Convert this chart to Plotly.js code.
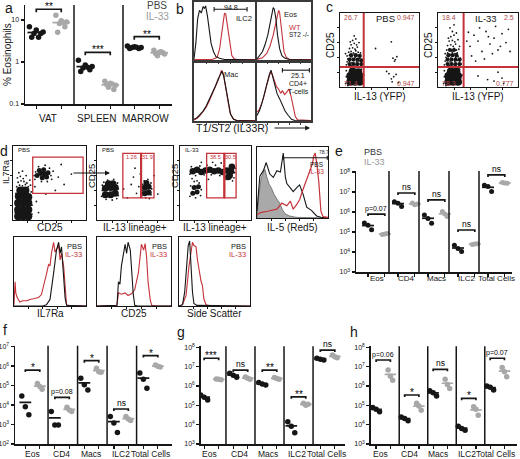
<!DOCTYPE html>
<html><head><meta charset="utf-8">
<script src="https://cdn.plot.ly/plotly-3.0.1.min.js"></script>
<style>html,body{margin:0;padding:0;background:#fff}#chart{width:520px;height:459px}
#chart svg text{-webkit-font-smoothing:antialiased;}</style>
</head><body><div id="chart"></div>
<script>
// ================= DATA =================
// Panel a: % eosinophils
const aCats = ['VAT','SPLEEN','MARROW'];
const aPBS  = [[6.9,5.8,5.2,4.8,4.8,3.9,3.9],[1.1,0.85,0.78,0.72,0.65,0.59,0.75],[2.4,2.3,2.2,2.2,2.1,2.1,2.25]];
const aIL33 = [[13,9.6,9,8.3,6.9,5.1,8.8],[0.35,0.31,0.28,0.25,0.22,0.29,0.3],[1.9,1.7,1.55,1.4,1.65,1.6,1.75]];
const aSig = [18,1.7,4.0];
const aSigText = ['**','***','**'];
const aTickVals = [0.1,1,10];
const aTickText = ['0.1','1','10'];

// Panels e-h: cell numbers
const cellCats = ['Eos','CD4','Macs','ILC2','Total Cells'];
const ePBS  = [[2.8e5,2.2e5,1.3e5],[3.3e6,2.7e6,1.9e6],[7.1e5,4.8e5,2.7e5],[2.2e4,1.5e4,1.05e4],[2.2e7,1.9e7,1.05e7]];
const eIL33 = [[7.6e4,7.9e4,8.3e4],[2.8e6,2.3e6,2.5e6],[1.05e6,7.9e5,5.9e5],[2.4e4,2.5e4,2.6e4],[2.95e7,2.8e7,2.7e7]];
const eSig = [7.9e5,8.9e6,4.0e6,1.26e5,7.1e7];
const eSigText = ['p=0.07','ns','ns','ns','ns'];

const fPBS  = [[2.95e4,8.3e3,3.2e3],[4.7e3,9.5e2,9.5e2],[2.4e5,1.1e5,6.0e4],[2.6e3,1.2e3,3.9e2],[4.4e5,2.1e5,7.4e4]];
const fIL33 = [[1.3e5,8.9e4,6.5e4],[7.8e3,5.6e3,4.7e3],[7.8e5,5.2e5,4.8e5],[2.6e3,1.9e3,1.6e3],[1.15e6,1.0e6,8.9e5]];
const fSig = [6.3e5,2.5e4,1.9e6,6.3e3,3.5e6];
const fSigText = ['*','p=0.08','*','ns','*'];

const gPBS  = [[3.4e5,2.6e5,1.9e5],[4.5e6,3.6e6,2.8e6],[1.5e6,1.26e6,1.12e6],[1.4e4,8.3e3,3.8e3],[2.7e7,2.4e7,2.2e7]];
const gIL33 = [[2.3e6,2.2e6,2.1e6],[2.9e6,2.5e6,2.2e6],[2.75e6,2.45e6,2.2e6],[1.26e5,1.0e5,1.12e5],[4.0e7,3.2e7,2.9e7]];
const gSig = [2.7e7,6.6e6,6.6e6,2.75e5,7.2e7];
const gSigText = ['***','ns','**','**','ns'];

const hPBS  = [[7.8e4,6.2e4,4.6e4],[2.5e4,2.1e4,1.6e4],[5.6e5,4.5e5,3.0e5],[8.3e3,6.3e3,5.2e3],[1.0e6,8.5e5,6.2e5]];
const hIL33 = [[6.6e6,3.2e6,2.0e6],[1.26e5,9.1e4,5.6e4],[2.2e6,1.2e6,7.4e5],[8.3e4,6.2e4,3.1e4],[9.1e6,5.5e6,3.0e6]];
const hSig = [2.2e7,3.4e5,7.2e6,2.3e5,2.7e7];
const hSigText = ['p=0.06','*','ns','*','p=0.07'];

const tv38 = [1e3,1e4,1e5,1e6,1e7,1e8];
const tt38 = ['10<sup>3</sup>','10<sup>4</sup>','10<sup>5</sup>','10<sup>6</sup>','10<sup>7</sup>','10<sup>8</sup>'];
const tv27 = [1e2,1e3,1e4,1e5,1e6,1e7];
const tt27 = ['10<sup>2</sup>','10<sup>3</sup>','10<sup>4</sup>','10<sup>5</sup>','10<sup>6</sup>','10<sup>7</sup>'];

// Panel b histograms (T1/ST2), x = fluorescence (0-1), y = normalized count
const bILC2_koX = [0,0.03,0.06,0.09,0.12,0.15,0.17,0.19,0.22,0.25,0.28,0.32,0.36,0.42,0.5,0.7,1];
const bILC2_koY = [0.02,0.3,0.75,0.9,0.85,0.97,0.93,0.98,0.8,0.55,0.3,0.15,0.06,0.03,0.01,0.01,0];
const bILC2_wtX = [0,0.3,0.38,0.42,0.45,0.48,0.5,0.52,0.55,0.58,0.62,0.66,0.7,1];
const bILC2_wtY = [0.01,0.01,0.05,0.2,0.45,0.7,0.85,0.83,0.6,0.3,0.08,0.02,0.01,0.01];
const bILC2Gate = [0.33,0.87], bILC2Pct = '94.8';
const bEos_koX = [0,0.05,0.1,0.15,0.2,0.24,0.27,0.3,0.32,0.35,0.38,0.42,0.46,0.52,0.6,1];
const bEos_koY = [0.02,0.08,0.15,0.28,0.45,0.65,0.8,0.95,0.92,0.75,0.45,0.2,0.08,0.03,0.01,0];
const bEos_wtX = [0,0.1,0.18,0.24,0.3,0.34,0.37,0.4,0.42,0.44,0.47,0.5,0.54,0.6,1];
const bEos_wtY = [0.01,0.04,0.12,0.25,0.45,0.65,0.82,0.9,0.85,0.65,0.35,0.15,0.05,0.01,0.01];
const bMac_koX = [0,0.05,0.1,0.15,0.2,0.25,0.3,0.35,0.4,0.43,0.46,0.49,0.52,0.56,0.6,0.65,0.7,1];
const bMac_koY = [0.03,0.06,0.12,0.18,0.27,0.38,0.5,0.63,0.77,0.85,0.9,0.8,0.6,0.35,0.12,0.03,0.01,0];
const bMac_wtX = [0,0.05,0.1,0.15,0.2,0.25,0.3,0.35,0.4,0.43,0.45,0.48,0.51,0.55,0.59,0.64,0.7,1];
const bMac_wtY = [0.02,0.05,0.1,0.17,0.25,0.36,0.48,0.6,0.75,0.85,0.92,0.86,0.65,0.4,0.15,0.04,0.01,0.01];
const bCD4_koX = [0,0.05,0.1,0.15,0.2,0.23,0.26,0.29,0.33,0.37,0.42,0.47,0.52,0.58,0.64,0.7,1];
const bCD4_koY = [0.1,0.2,0.35,0.55,0.75,0.85,0.92,0.8,0.65,0.5,0.4,0.3,0.18,0.1,0.03,0.01,0];
const bCD4_wtX = [0,0.04,0.08,0.13,0.18,0.22,0.25,0.28,0.32,0.36,0.4,0.44,0.47,0.51,0.55,0.59,0.63,0.67,0.71,0.75,1];
const bCD4_wtY = [0.16,0.2,0.3,0.45,0.65,0.8,0.88,0.85,0.75,0.62,0.58,0.5,0.55,0.48,0.52,0.58,0.45,0.25,0.08,0.02,0.01];
const bCD4Gate = [0.47,0.97], bCD4Pct = '25.1';

// Panel c flow plots (CD25 vs IL-13 YFP), x/y in 0-1 log-fluorescence units
const cGateX = [0.3,0.32], cGateY = [0.27,0.27];
const cPBSQuad = ['26.7','0.947','71.4','0.947'];
const cIL33Quad = ['18.4','2.5','78.3','0.777'];
const cPBSCoreX = [0.13,0.19,0.25,0.13,0.19,0.25,0.16,0.23];
const cPBSCoreY = [0.07,0.07,0.07,0.15,0.15,0.15,0.21,0.2];
const cPBSMidX = [0.12,0.17,0.22,0.27,0.12,0.17,0.22,0.27,0.14,0.2,0.25];
const cPBSMidY = [0.31,0.31,0.31,0.31,0.37,0.37,0.37,0.36,0.43,0.43,0.42];
const cPBSDotX = [0.08,0.11,0.14,0.17,0.2,0.23,0.26,0.29,0.09,0.12,0.15,0.18,0.21,0.24,0.27,0.1,0.13,0.16,0.19,0.22,0.25,0.28,0.09,0.12,0.15,0.18,0.21,0.24,0.11,0.14,0.17,0.2,0.23,0.26,0.12,0.16,0.19,0.22,0.14,0.18,0.21,0.16,0.2,0.13,0.18,0.24,0.07,
  0.07,0.08,0.29,0.3,0.1,0.27,0.28,0.08,
  0.65,0.67,0.7,0.72,0.69,0.59,0.65,0.68,0.66,0.71,0.62,0.74,0.45];
const cPBSDotY = [0.3,0.31,0.29,0.32,0.3,0.31,0.3,0.31,0.34,0.35,0.33,0.36,0.34,0.35,0.34,0.38,0.39,0.37,0.4,0.38,0.39,0.37,0.42,0.43,0.41,0.44,0.42,0.43,0.47,0.48,0.46,0.49,0.47,0.46,0.52,0.53,0.51,0.54,0.57,0.59,0.57,0.63,0.65,0.61,0.69,0.6,0.45,
  0.05,0.14,0.06,0.16,0.02,0.24,0.12,0.22,
  0.61,0.39,0.37,0.41,0.35,0.21,0.11,0.14,0.07,0.17,0.18,0.06,0.52];
const cIL33CoreX = [0.13,0.19,0.25,0.13,0.19,0.25,0.16,0.23];
const cIL33CoreY = [0.07,0.07,0.07,0.15,0.15,0.15,0.21,0.21];
const cIL33MidX = [0.12,0.17,0.22,0.27,0.12,0.17,0.22,0.27,0.13,0.18,0.23,0.15,0.2];
const cIL33MidY = [0.31,0.31,0.31,0.31,0.37,0.37,0.37,0.37,0.43,0.43,0.43,0.5,0.5];
const cIL33DotX = [0.08,0.11,0.14,0.17,0.2,0.23,0.26,0.29,0.09,0.12,0.15,0.18,0.21,0.24,0.27,0.1,0.13,0.16,0.19,0.22,0.25,0.28,0.09,0.12,0.15,0.18,0.21,0.24,0.11,0.14,0.17,0.2,0.23,0.26,0.12,0.16,0.19,0.22,0.14,0.18,0.21,0.25,0.16,0.2,0.13,0.18,0.23,0.15,0.2,0.27,
  0.4,0.45,0.5,0.55,0.6,0.65,0.7,0.75,0.8,0.85,0.42,0.52,0.58,0.63,0.68,0.78,0.88,0.47,0.72,0.9,0.36,0.38,
  0.5,0.62,0.75,0.8,0.82,0.7,
  0.07,0.08,0.29,0.3,0.1,0.27,0.28,0.08];
const cIL33DotY = [0.3,0.31,0.29,0.32,0.3,0.31,0.3,0.31,0.35,0.36,0.34,0.37,0.35,0.36,0.35,0.4,0.41,0.39,0.42,0.4,0.41,0.39,0.45,0.46,0.44,0.47,0.45,0.46,0.5,0.51,0.49,0.52,0.5,0.51,0.56,0.57,0.55,0.58,0.62,0.63,0.61,0.64,0.68,0.7,0.66,0.75,0.73,0.8,0.84,0.55,
  0.55,0.7,0.62,0.48,0.75,0.58,0.66,0.5,0.72,0.6,0.42,0.8,0.38,0.68,0.45,0.55,0.78,0.35,0.82,0.48,0.62,0.74,
  0.15,0.1,0.2,0.12,0.05,0.08,
  0.05,0.14,0.06,0.16,0.02,0.24,0.12,0.22];

// Panel d flow plots
const d1Gate = [0.27,0.96,0.36,0.85];
const d1CoreX = [0.07,0.14,0.21,0.07,0.14,0.21,0.07,0.14,0.21,0.08,0.15,0.21,0.1,0.17];
const d1CoreY = [0.05,0.05,0.05,0.14,0.14,0.14,0.23,0.23,0.23,0.32,0.32,0.31,0.4,0.4];
const d1MidX = [0.33,0.38,0.43,0.48,0.36,0.42,0.46,0.4];
const d1MidY = [0.6,0.63,0.62,0.64,0.67,0.68,0.58,0.57];
const d1DotX = [0.05,0.09,0.13,0.17,0.21,0.24,0.07,0.11,0.15,0.19,0.23,0.06,0.1,0.14,0.18,0.08,0.13,0.04,0.25,0.26,0.03,0.26,0.04,
  0.3,0.31,0.35,0.52,0.5,0.55,0.44,0.29,0.53,0.39,0.47,
  0.62,0.7,0.58,0.32,0.45,0.8,0.66,0.35,0.3];
const d1DotY = [0.45,0.47,0.46,0.48,0.45,0.47,0.51,0.53,0.52,0.5,0.54,0.57,0.59,0.56,0.6,0.64,0.66,0.36,0.38,0.2,0.1,0.08,0.25,
  0.55,0.65,0.72,0.6,0.7,0.66,0.74,0.6,0.55,0.52,0.52,
  0.58,0.48,0.4,0.25,0.35,0.62,0.75,0.1,0.45];
const d2Gates = [[0.34,0.58,0.3,0.9],[0.58,0.75,0.3,0.9]];
const d2Pct = ['1.26','31.9'];
const d2CoreX = [0.11,0.18,0.24,0.11,0.18,0.24,0.15,0.21];
const d2CoreY = [0.34,0.34,0.36,0.43,0.44,0.44,0.49,0.49];
const d2Core2X = [0.63,0.68,0.63,0.68,0.65];
const d2Core2Y = [0.36,0.37,0.44,0.45,0.5];
const d2DotX = [0.06,0.07,0.07,0.28,0.28,0.27,0.12,0.2,0.14,0.22,0.09,0.26,
  0.59,0.6,0.6,0.71,0.72,0.71,0.64,0.67,0.62,0.69,
  0.45,0.52,0.48,0.55,0.4,0.35,0.75,0.8,0.5,0.57];
const d2DotY = [0.32,0.4,0.47,0.33,0.42,0.5,0.28,0.27,0.54,0.55,0.51,0.29,
  0.33,0.4,0.48,0.34,0.42,0.5,0.3,0.55,0.53,0.29,
  0.48,0.36,0.58,0.45,0.3,0.42,0.6,0.35,0.7,0.62];
const d3Gates = [[0.375,0.625,0.3,0.9],[0.625,0.79,0.3,0.9]];
const d3Pct = ['38.5','30.5'];
const d3CoreX = [0.18,0.24,0.3,0.36,0.42,0.48,0.54,0.6,0.66,0.72,0.7,0.73,0.68];
const d3CoreY = [0.66,0.68,0.65,0.67,0.68,0.66,0.67,0.65,0.67,0.66,0.6,0.72,0.58];
const d3Core2X = [0.18,0.24,0.2,0.26];
const d3Core2Y = [0.36,0.38,0.44,0.45];
const d3DotX = [0.14,0.16,0.22,0.28,0.34,0.38,0.44,0.5,0.56,0.62,0.77,0.78,0.76,0.65,0.74,0.2,0.17,0.24,0.14,0.29,0.15,0.3,0.22,0.27,0.4,0.58,0.46,0.3];
const d3DotY = [0.62,0.72,0.6,0.73,0.61,0.74,0.61,0.74,0.6,0.73,0.64,0.7,0.57,0.55,0.53,0.52,0.56,0.53,0.32,0.33,0.46,0.41,0.3,0.5,0.55,0.77,0.78,0.78];

// Panel d histograms
const d4GrayX = [0,0.02,0.06,0.09,0.11,0.14,0.17,0.2,0.24,0.28,0.32,0.36,0.4,0.46,0.55,1];
const d4GrayY = [0,0.3,0.6,0.68,0.72,0.6,0.5,0.45,0.35,0.28,0.22,0.12,0.06,0.03,0.01,0];
const d4PBSX = [0,0.04,0.09,0.13,0.18,0.23,0.28,0.33,0.37,0.4,0.42,0.46,0.51,0.56,0.6,0.65,0.7,0.77,0.84,0.9,1];
const d4PBSY = [0.1,0.62,0.7,0.82,0.65,0.6,0.7,0.68,0.96,0.6,0.51,0.45,0.39,0.45,0.49,0.35,0.16,0.11,0.03,0.01,0];
const d4ILX = [0,0.05,0.15,0.28,0.35,0.42,0.47,0.51,0.56,0.6,0.64,0.67,0.71,0.75,0.78,0.8,0.82,0.84,0.87,0.9,0.93,1];
const d4ILY = [0.05,0.08,0.1,0.13,0.22,0.18,0.25,0.13,0.2,0.27,0.4,0.49,0.6,0.72,0.8,0.92,0.96,0.82,0.54,0.1,0.02,0.01];
const d4Gate = [0.37,0.99], d4Pct = '78.7';
const il7PBSX = [0,0.4,0.45,0.5,0.55,0.59,0.62,0.64,0.66,0.69,0.71,0.73,1];
const il7PBSY = [0,0,0.02,0.1,0.5,0.85,0.97,0.8,0.9,0.4,0.12,0.01,0];
const il7ILX = [0,0.015,0.025,0.04,0.08,0.12,0.18,0.22,0.27,0.34,0.38,0.41,0.45,0.48,0.5,0.52,0.55,0.57,0.59,0.62,0.64,0.66,0.69,0.71,0.73,0.76,1];
const il7ILY = [0.02,0.37,0.2,0.14,0.06,0.08,0.08,0.1,0.11,0.13,0.17,0.29,0.48,0.63,0.61,0.8,0.97,0.82,0.87,0.92,0.7,0.8,0.6,0.23,0.02,0.01,0];
const cd25PBSX = [0,0.25,0.27,0.29,0.31,0.33,0.36,0.38,0.4,0.42,0.45,0.47,0.49,0.51,0.55,1];
const cd25PBSY = [0,0,0.01,0.37,0.33,0.61,0.85,0.94,0.8,0.97,0.85,0.51,0.18,0.01,0,0];
const cd25ILX = [0,0.25,0.27,0.29,0.33,0.38,0.42,0.47,0.51,0.56,0.58,0.6,0.63,0.65,0.67,0.69,0.72,0.74,0.8,1];
const cd25ILY = [0,0,0.01,0.2,0.18,0.2,0.16,0.19,0.25,0.51,0.7,0.94,0.85,0.95,0.75,0.37,0.09,0.01,0,0];
const sscPBSX = [0,0.05,0.08,0.11,0.13,0.15,0.17,0.19,0.21,0.25,1];
const sscPBSY = [0,0.02,0.21,0.7,0.92,0.99,0.6,0.21,0.04,0.01,0];
const sscILX = [0,0.05,0.1,0.14,0.18,0.19,0.21,0.24,0.26,0.28,0.31,0.33,0.35,0.38,0.45,1];
const sscILY = [0,0.02,0.16,0.6,0.9,0.97,0.92,0.9,0.7,0.55,0.38,0.31,0.11,0.02,0,0];

// ================= DRAWING =================
const W = 520, H = 459;
const PX = x => x / W, PY = y => 1 - y / H;
const RED = '#c4323a', BLK = '#161616', GRY = '#a8a8a8';
const FAM = '"Liberation Sans", Arial, sans-serif';
const layout = {
  width: W, height: H, margin: {l:0, r:0, t:0, b:0, pad:0},
  paper_bgcolor: '#fff', plot_bgcolor: 'rgba(0,0,0,0)', showlegend: false,
  font: {family: FAM, size: 9, color: BLK},
  annotations: [], shapes: []
};
const traces = [];
let axCount = 0;
function makeAxes(x0, x1, yT, yB, xo, yo) {
  axCount++;
  const s = axCount === 1 ? '' : String(axCount);
  const base = {showgrid:false, zeroline:false, fixedrange:true};
  layout['xaxis' + s] = Object.assign({}, base, {domain:[PX(x0), PX(x1)], anchor:'y' + s}, xo);
  layout['yaxis' + s] = Object.assign({}, base, {domain:[PY(yB), PY(yT)], anchor:'x' + s}, yo);
  return {x:'x' + s, y:'y' + s};
}
function txt(x, y, text, size, o, color) {
  layout.annotations.push(Object.assign({xref:'paper', yref:'paper', x:PX(x), y:PY(y), text:text, showarrow:false,
    xanchor:'center', yanchor:'middle', font:{family:FAM, size:size, color:color || BLK}}, o || {}));
}
function axTxt(ax, x, y, text, size, color, o) {
  layout.annotations.push(Object.assign({xref:ax.x, yref:ax.y, x:x, y:y, text:text, showarrow:false,
    xanchor:'center', yanchor:'middle', font:{family:FAM, size:size, color:color || BLK}}, o || {}));
}
function line(ax, x, y, col, w, extra) {
  traces.push(Object.assign({type:'scatter', mode:'lines', xaxis:ax.x, yaxis:ax.y, x:x, y:y,
    line:{color:col, width:w || 1.2}, hoverinfo:'skip'}, extra || {}));
}
function dots(ax, x, y, size, col) {
  traces.push({type:'scatter', mode:'markers', xaxis:ax.x, yaxis:ax.y, x:x, y:y,
    marker:{color:col || BLK, size:size, line:{width:0}}, hoverinfo:'skip'});
}
function boxAx(x0, x1, yT, yB, lc, lw, yTicks) {
  const common = {showline:true, mirror:true, linecolor:lc, linewidth:lw, ticks:'outside', ticklen:2,
    tickwidth:1, tickcolor:lc, showticklabels:false};
  return makeAxes(x0, x1, yT, yB,
    Object.assign({range:[0,1], tickvals:[0.2,0.4,0.6,0.8]}, common),
    Object.assign({range: yTicks ? [0,1] : [0,1.05], tickvals: yTicks ? [0.2,0.4,0.6,0.8] : []}, common));
}
function capBracket(ax, a, b, h, d, col) {
  line(ax, [a,a,null,a,b,null,b,b], [h-d,h+d,null,h,h,null,h-d,h+d], col || BLK, 1.1);
}
function rect(ax, g, col, w) {
  layout.shapes.push({type:'rect', xref:ax.x, yref:ax.y, x0:g[0], x1:g[1], y0:g[2], y1:g[3],
    line:{color:col, width:w}, fillcolor:'rgba(0,0,0,0)'});
}

function dotPanel(c) {
  const tv = [];
  c.cats.forEach((_, g) => { tv.push(g + c.pOff, g + c.iOff); });
  const ax = makeAxes(c.x0, c.x1, c.yT, c.yB,
    {range:c.xr, showline:true, linecolor:BLK, linewidth:1.5, ticks:'outside', ticklen:3, tickwidth:1.3,
     tickcolor:BLK, tickvals:tv, showticklabels:false},
    {type:'log', range:c.yr, showline:true, linecolor:BLK, linewidth:1.5, ticks:'outside', ticklen:3,
     tickwidth:1.3, tickcolor:BLK, tickvals:c.tv, ticktext:c.tt, tickfont:{family:FAM, size:c.tfs, color:BLK}});
  c.cats.forEach((cat, g) => {
    if (g > 0) layout.shapes.push({type:'line', xref:ax.x, yref:ax.y + ' domain', x0:g, x1:g, y0:0, y1:1,
      line:{color:BLK, width:1.5}});
    [[c.pbs[g], g + c.pOff, BLK, c.jp], [c.il[g], g + c.iOff, GRY, c.ji]].forEach(([vals, x, col, amp]) => {
      const n = vals.length, k = (n % 3 === 0) ? 1 : 3;
      const xs = vals.map((v, i) => x + (((i * k) % n) / (n - 1) * 2 - 1) * amp);
      traces.push({type:'scatter', mode:'markers', xaxis:ax.x, yaxis:ax.y, x:xs, y:vals,
        marker:{color:col, size:c.ms, line:{width:0}}, hoverinfo:'skip'});
      const m = vals.reduce((s, v) => s + v, 0) / n;
      line(ax, [x - c.mw, x + c.mw], [m, m], col, 1.7);
    });
    const s = c.sig[g], P = g + c.pOff, I = g + c.iOff, d = Math.pow(10, c.cap);
    line(ax, [P, P, I, I], [s / d, s, s, s / d], BLK, 1.7);
    const st = c.sigText[g], isP = st.startsWith('p');
    axTxt(ax, (P + I) / 2, Math.log10(s), st, isP ? 7 : (st === 'ns' ? 8.5 : 10), '#000',
      {yanchor:'bottom', yshift: isP ? -1 : (st === 'ns' ? -1 : -5), opacity:0.99});
    layout.annotations.push({xref:ax.x, yref:'paper', x:g + c.lOff, y:PY(c.labY), text:cat, showarrow:false,
      xanchor:'center', yanchor:'middle', font:{family:FAM, size:c.lfs, color:BLK}});
  });
  return ax;
}

// ---- Panel a ----
dotPanel({cats:aCats, pbs:aPBS, il:aIL33, sig:aSig, sigText:aSigText, x0:25, x1:172, yT:5, yB:104,
  xr:[0,3], yr:[-1,1.357], tv:aTickVals, tt:aTickText, tfs:7, pOff:0.23, iOff:0.74, lOff:0.46, labY:118,
  lfs:10, ms:5.5, mw:0.18, jp:0.14, ji:0.11, cap:0.07});
txt(3, 8, 'a', 14, {xanchor:'left'});
txt(8, 55, '% Eosinophils', 10, {textangle:-90});
txt(145, 5, 'PBS', 10, {xanchor:'left'}, '#444');
txt(144, 16, 'IL-33', 10, {xanchor:'left'}, '#9a9a9a');

// ---- Panel b ----
txt(180, 9, 'b', 14);
const b1 = boxAx(194, 255, 2, 60, '#3a3a3a', 1.6);
line(b1, bILC2_wtX, bILC2_wtY, RED, 1.1); line(b1, bILC2_koX, bILC2_koY, BLK, 1.1);
capBracket(b1, bILC2Gate[0], bILC2Gate[1], 0.92, 0.04);
axTxt(b1, (bILC2Gate[0] + bILC2Gate[1]) / 2, 0.95, bILC2Pct, 7);
axTxt(b1, 0.82, 0.75, 'ILC2', 7.5);
const b2 = boxAx(257, 311, 2, 60, '#3a3a3a', 1.6);
line(b2, bEos_wtX, bEos_wtY, RED, 1.1); line(b2, bEos_koX, bEos_koY, BLK, 1.1);
axTxt(b2, 0.62, 0.83, 'Eos', 7.5);
axTxt(b2, 0.56, 0.59, 'WT', 7.5, RED, {xanchor:'left'});
axTxt(b2, 0.56, 0.46, 'ST2 -/-', 6.5, BLK, {xanchor:'left'});
const b3 = boxAx(194, 255, 63, 121, '#3a3a3a', 1.6);
line(b3, bMac_wtX, bMac_wtY, RED, 1.1); line(b3, bMac_koX, bMac_koY, BLK, 1.1);
axTxt(b3, 0.6, 0.85, 'Mac', 7.5);
const b4 = boxAx(257, 311, 63, 121, '#3a3a3a', 1.6);
line(b4, bCD4_wtX, bCD4_wtY, RED, 1.1); line(b4, bCD4_koX, bCD4_koY, BLK, 1.1);
capBracket(b4, bCD4Gate[0], bCD4Gate[1], 0.92, 0.04);
axTxt(b4, 0.76, 0.82, bCD4Pct, 7);
axTxt(b4, 0.76, 0.67, 'CD4+', 7);
axTxt(b4, 0.76, 0.53, 'T-cells', 7);
txt(194, 128, 'T1/ST2 (IL33R)', 10.5, {xanchor:'left'});
layout.annotations.push({xref:'paper', yref:'paper', axref:'paper', ayref:'paper', x:PX(310), y:PY(128),
  ax:PX(273), ay:PY(128), showarrow:true, arrowhead:2, arrowsize:0.8, arrowwidth:1.2, arrowcolor:BLK, text:''});

// ---- Panel c ----
txt(329, 7, 'c', 14);
function cPlot(x0, x1, core, mid, dX, dY, gx, gy, quad, name) {
  const ax = boxAx(x0, x1, 13, 87, BLK, 1, true);
  dots(ax, core[0], core[1], 8);
  dots(ax, mid[0], mid[1], 4.2);
  dots(ax, dX, dY, 1.8);
  layout.shapes.push({type:'line', xref:ax.x, yref:ax.y, x0:gx, x1:gx, y0:0, y1:1, line:{color:RED, width:2}});
  layout.shapes.push({type:'line', xref:ax.x, yref:ax.y, x0:0, x1:1, y0:gy, y1:gy, line:{color:RED, width:2}});
  axTxt(ax, 0.03, 0.94, quad[0], 7, '#b04848', {xanchor:'left'});
  axTxt(ax, 0.98, 0.94, quad[1], 7, '#b04848', {xanchor:'right'});
  axTxt(ax, 0.03, 0.05, quad[2], 7, '#b04848', {xanchor:'left'});
  axTxt(ax, 0.98, 0.05, quad[3], 7, '#b04848', {xanchor:'right'});
  axTxt(ax, name === 'PBS' ? 0.58 : 0.6, 0.93, name, 9.5);
  txt((x0 + x1) / 2, 96, 'IL-13 (YFP)', 10);
  txt(x0 - 9, 45, 'CD25', 10, {textangle:-90});
  return ax;
}
cPlot(340, 419, [cPBSCoreX, cPBSCoreY], [cPBSMidX, cPBSMidY], cPBSDotX, cPBSDotY, cGateX[0], cGateY[0], cPBSQuad, 'PBS');
cPlot(438, 518, [cIL33CoreX, cIL33CoreY], [cIL33MidX, cIL33MidY], cIL33DotX, cIL33DotY, cGateX[1], cGateY[1], cIL33Quad, 'IL-33');

// ---- Panel d row 1 ----
txt(4, 151, 'd', 14);
const d1 = boxAx(13, 86, 146, 220, BLK, 1, true);
dots(d1, d1CoreX, d1CoreY, 8); dots(d1, d1MidX, d1MidY, 5); dots(d1, d1DotX, d1DotY, 1.8);
rect(d1, d1Gate, RED, 1.3);
axTxt(d1, 0.04, 0.94, 'PBS', 6, BLK, {xanchor:'left'});
txt(6, 172, 'IL7Ra', 9, {textangle:-90});
txt(50, 227, 'CD25', 10);
layout.annotations.push({xref:'paper', yref:'paper', axref:'paper', ayref:'paper', x:PX(110), y:PY(173),
  ax:PX(72), ay:PY(173), showarrow:true, arrowhead:2, arrowsize:1, arrowwidth:1, arrowcolor:BLK, text:''});

const d2 = boxAx(97, 173, 146, 220, BLK, 1, true);
dots(d2, d2CoreX, d2CoreY, 7); dots(d2, d2Core2X, d2Core2Y, 6); dots(d2, d2DotX, d2DotY, 1.8);
d2Gates.forEach(g => rect(d2, g, RED, 1.3));
layout.shapes.push({type:'line', xref:d2.x, yref:d2.y, x0:d2Gates[0][1], x1:d2Gates[0][1], y0:d2Gates[0][2], y1:d2Gates[0][3], line:{color:RED, width:2.2}});
axTxt(d2, (d2Gates[0][0] + d2Gates[0][1]) / 2, 0.85, d2Pct[0], 5.5, RED);
axTxt(d2, (d2Gates[1][0] + d2Gates[1][1]) / 2, 0.85, d2Pct[1], 5.5, RED);
axTxt(d2, 0.04, 0.94, 'PBS', 6, BLK, {xanchor:'left'});
txt(91, 176, 'CD25', 9.5, {textangle:-90});
txt(135, 227, 'IL-13 lineage+', 10);

const d3 = boxAx(180, 251, 146, 220, BLK, 1, true);
dots(d3, d3CoreX, d3CoreY, 6.5); dots(d3, d3Core2X, d3Core2Y, 5); dots(d3, d3DotX, d3DotY, 1.8);
d3Gates.forEach(g => rect(d3, g, RED, 1.3));
layout.shapes.push({type:'line', xref:d3.x, yref:d3.y, x0:d3Gates[0][1], x1:d3Gates[0][1], y0:d3Gates[0][2], y1:d3Gates[0][3], line:{color:RED, width:2.2}});
axTxt(d3, (d3Gates[0][0] + d3Gates[0][1]) / 2, 0.85, d3Pct[0], 5.5, RED);
axTxt(d3, (d3Gates[1][0] + d3Gates[1][1]) / 2, 0.85, d3Pct[1], 5.5, RED);
axTxt(d3, 0.04, 0.94, 'IL-33', 6, BLK, {xanchor:'left'});
txt(174, 176, 'CD25', 9.5, {textangle:-90});
txt(215, 227, 'IL-13 lineage+', 10);

const d4 = boxAx(257, 328, 147, 218, BLK, 1);
line(d4, d4GrayX, d4GrayY, '#666', 0.8, {fill:'tozeroy', fillcolor:'#a9a9a9'});
line(d4, d4PBSX, d4PBSY, BLK, 1.1);
line(d4, d4ILX, d4ILY, RED, 1.2);
capBracket(d4, d4Gate[0], d4Gate[1], 0.89, 0.03);
axTxt(d4, 0.95, 0.98, d4Pct, 5);
axTxt(d4, 0.97, 0.79, 'PBS', 6.5, BLK, {xanchor:'right'});
axTxt(d4, 0.97, 0.69, 'IL-33', 6.5, RED, {xanchor:'right'});
txt(292, 227, 'IL-5 (Red5)', 10);

// ---- Panel d row 2 ----
function histBox(x0, x1, pbsX, pbsY, ilX, ilY, label) {
  const ax = boxAx(x0, x1, 237, 306, BLK, 1);
  line(ax, ilX, ilY, RED, 1.1);
  line(ax, pbsX, pbsY, BLK, 1.1);
  axTxt(ax, 0.97, 0.9, 'PBS', 7.5, BLK, {xanchor:'right'});
  axTxt(ax, 0.97, 0.78, 'IL-33', 7.5, RED, {xanchor:'right'});
  txt((x0 + x1) / 2, 313, label, 10);
}
histBox(14, 86, il7PBSX, il7PBSY, il7ILX, il7ILY, 'IL7Ra');
histBox(97, 171, cd25PBSX, cd25PBSY, cd25ILX, cd25ILY, 'CD25');
histBox(179, 250, sscPBSX, sscPBSY, sscILX, sscILY, 'Side Scatter');

// ---- Panel e ----
dotPanel({cats:cellCats, pbs:ePBS, il:eIL33, sig:eSig, sigText:eSigText, x0:356, x1:512, yT:171, yB:272,
  xr:[-0.1,5.1], yr:[3,8.05], tv:tv38, tt:tt38, tfs:7, pOff:0.3, iOff:0.86, lOff:0.59, labY:278,
  lfs:8, ms:5, mw:0.2, jp:0.12, ji:0.08, cap:0.1});
txt(339, 151, 'e', 14);
txt(362, 152, 'PBS', 9, {xanchor:'left'}, '#333');
txt(362, 162, 'IL-33', 9, {xanchor:'left'}, '#999');

// ---- Panel f ----
dotPanel({cats:cellCats, pbs:fPBS, il:fIL33, sig:fSig, sigText:fSigText, x0:15, x1:172, yT:345.7, yB:444,
  xr:[-0.12,5.2], yr:[2,7.05], tv:tv27, tt:tt27, tfs:7, pOff:0.23, iOff:0.72, lOff:0.47, labY:454,
  lfs:8.5, ms:5.5, mw:0.2, jp:0.12, ji:0.08, cap:0.1});
txt(5, 330, 'f', 14);
// ---- Panel g ----
dotPanel({cats:cellCats, pbs:gPBS, il:gIL33, sig:gSig, sigText:gSigText, x0:200.7, x1:345, yT:346.3, yB:444,
  xr:[0.13,5.1], yr:[3,8.05], tv:tv38, tt:tt38, tfs:7, pOff:0.25, iOff:0.75, lOff:0.45, labY:454,
  lfs:8.5, ms:5.5, mw:0.2, jp:0.12, ji:0.08, cap:0.1});
txt(181, 332, 'g', 14);
// ---- Panel h ----
dotPanel({cats:cellCats, pbs:hPBS, il:hIL33, sig:hSig, sigText:hSigText, x0:370.7, x1:517, yT:346.3, yB:444,
  xr:[0,5.13], yr:[3,8.05], tv:tv38, tt:tt38, tfs:7, pOff:0.19, iOff:0.69, lOff:0.36, labY:454,
  lfs:8.5, ms:5.5, mw:0.2, jp:0.12, ji:0.08, cap:0.1});
txt(354, 332, 'h', 14);

Plotly.newPlot('chart', traces, layout, {staticPlot:true, displayModeBar:false});
</script>
</body></html>
